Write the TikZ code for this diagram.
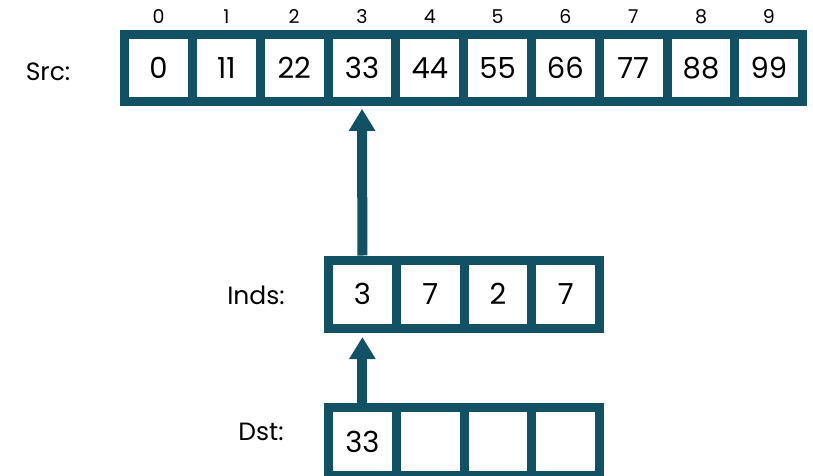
\documentclass[tikz,border=0pt]{standalone}
\usepackage{fontspec}
\setmainfont{Poppins}
\usetikzlibrary{arrows.meta}
\definecolor{teal}{RGB}{17,81,99}
\tikzset{
  cellbox/.style={draw=teal, line width=9pt, fill=white, inner sep=0pt,
    minimum width=67.8pt, minimum height=67pt, font=\fontsize{29}{32}\selectfont},
  idx/.style={font=\fontsize{19}{22}\selectfont, inner sep=0pt},
  lbl/.style={font=\fontsize{25}{30}\selectfont, inner sep=0pt},
  arr/.style={draw=teal, line width=10pt, -{Triangle[width=25pt,length=22pt]}}
}
\begin{document}
\begin{tikzpicture}[x=1pt,y=-1pt]
\useasboundingbox (0,0) rectangle (813,476);
\coordinate (idxline) at (0,17);
% Src
\foreach \v [count=\i from 0] in {0,11,22,33,44,55,66,77,88,99} {
  \node[cellbox] (s\i) at ({158.6+67.8*\i},67.8) {\v};
  \node[idx] (n\i) at (s\i.center |- idxline) {\i};
}
\node[lbl] (srcl) at (48,72) {Src:};
% Inds
\foreach \v [count=\i from 0] in {3,7,2,7} {
  \node[cellbox, minimum height=68pt] (i\i) at ({362.4+67.8*\i},294) {\v};
}
\node[lbl] (indl) at (256,295) {Inds:};
% Dst
\foreach \v [count=\i from 0] in {33,,,} {
  \node[cellbox, minimum height=68pt] (d\i) at ({362.4+67.8*\i},441.5) {\v};
}
\node[lbl] (dstl) at (261,432) {Dst:};
% arrows
\draw[arr, shorten >=3pt] (i0.north) -- (s3.south);
\draw[arr, shorten >=4.5pt] (d0.north) -- (i0.south);
\end{tikzpicture}
\end{document}
